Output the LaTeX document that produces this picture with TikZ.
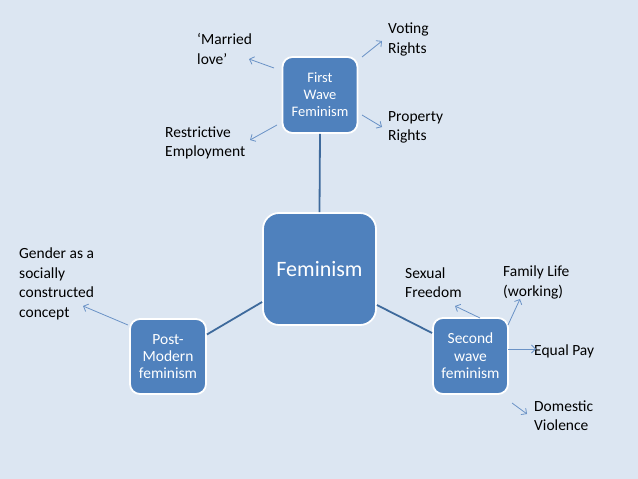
\documentclass[tikz,border=0pt]{standalone}
\usepackage{fontspec}
\setmainfont{Carlito}
\usetikzlibrary{arrows.meta}
\definecolor{bg}{HTML}{DCE6F2}
\definecolor{boxfill}{HTML}{4F81BD}
\definecolor{mainline}{HTML}{3E6A9C}
\definecolor{arrline}{HTML}{6A92C6}
\tikzset{
  box/.style={draw=white, line width=1.8pt, fill=boxfill, rounded corners=10pt, text=white, align=center, inner sep=0pt},
  lbl/.style={anchor=west, align=left, inner sep=0pt, font=\fontsize{15.5}{19.5}\selectfont},
  link/.style={draw=mainline, line width=1.8pt},
  arr/.style={draw=arrline, line width=0.8pt, -{Straight Barb[length=4pt,width=8pt]}}
}
\begin{document}
\begin{tikzpicture}[x=1pt,y=-1pt]
\fill[bg] (0,0) rectangle (638,479);
\useasboundingbox (0,0) rectangle (638,479);

% main boxes
\node[box, minimum width=75pt, minimum height=76pt, font=\fontsize{14.5}{17}\selectfont] (fw) at (320,95) {First\\Wave\\Feminism};
\node[box, minimum width=113pt, minimum height=112pt, rounded corners=16pt, font=\fontsize{22}{26}\selectfont] (fem) at (319.5,269) {Feminism};
\node[box, minimum width=76pt, minimum height=75pt, font=\fontsize{15.5}{17.4}\selectfont] (pm) at (168,356.5) {Post-\\Modern\\feminism};
\node[box, minimum width=75pt, minimum height=76pt, font=\fontsize{15.5}{17.4}\selectfont] (sw) at (470.5,356) {Second\\wave\\feminism};

% links
\draw[link] (fem.north) -- (fw.south);
\draw[link] ([yshift=-33pt]fem.west) -- ([yshift=22pt]pm.east);
\draw[link] ([yshift=-36pt]fem.east) -- ([yshift=23pt]sw.west);

% labels
\node[lbl] (ml) at (197,49) {‘Married\\love’};
\node[lbl] (vr) at (388,39.5) {Voting\\Rights};
\node[lbl] (pr) at (388,127.5) {Property\\Rights};
\node[lbl] (re) at (165,143) {Restrictive\\Employment};
\node[lbl] (gd) at (19,284) {Gender as a\\socially\\constructed\\concept};
\node[lbl] (sf) at (405,282.5) {Sexual\\Freedom};
\node[lbl] (fl) at (503,282.5) {Family Life\\(working)};
\node[lbl] (ep) at (534,351) {Equal Pay};
\node[lbl] (dv) at (534,415.5) {Domestic\\Violence};

% arrow endpoints
\coordinate (a1s) at (274,68);  \coordinate (a1e) at (249,59);
\coordinate (a2s) at (362,57);  \coordinate (a2e) at (382,41);
\coordinate (a3s) at (362,115); \coordinate (a3e) at (382,127);
\coordinate (a4s) at (277,125); \coordinate (a4e) at (250,140);
\coordinate (a5s) at (128,325); \coordinate (a5e) at (83,306);
\coordinate (a6s) at (480,318); \coordinate (a6e) at (455,306);
\coordinate (a7s) at (508,325); \coordinate (a7e) at (520,299);
\coordinate (a8s) at (508,349); \coordinate (a8e) at (536,349);
\coordinate (a9s) at (512,403); \coordinate (a9e) at (527,414);

\draw[arr] (a1s) -- (a1e);
\draw[arr] (a2s) -- (a2e);
\draw[arr] (a3s) -- (a3e);
\draw[arr] (a4s) -- (a4e);
\draw[arr] (a5s) -- (a5e);
\draw[arr] (a6s) -- (a6e);
\draw[arr] (a7s) -- (a7e);
\draw[arr] (a8s) -- (a8e);
\draw[arr] (a9s) -- (a9e);
\end{tikzpicture}
\end{document}
